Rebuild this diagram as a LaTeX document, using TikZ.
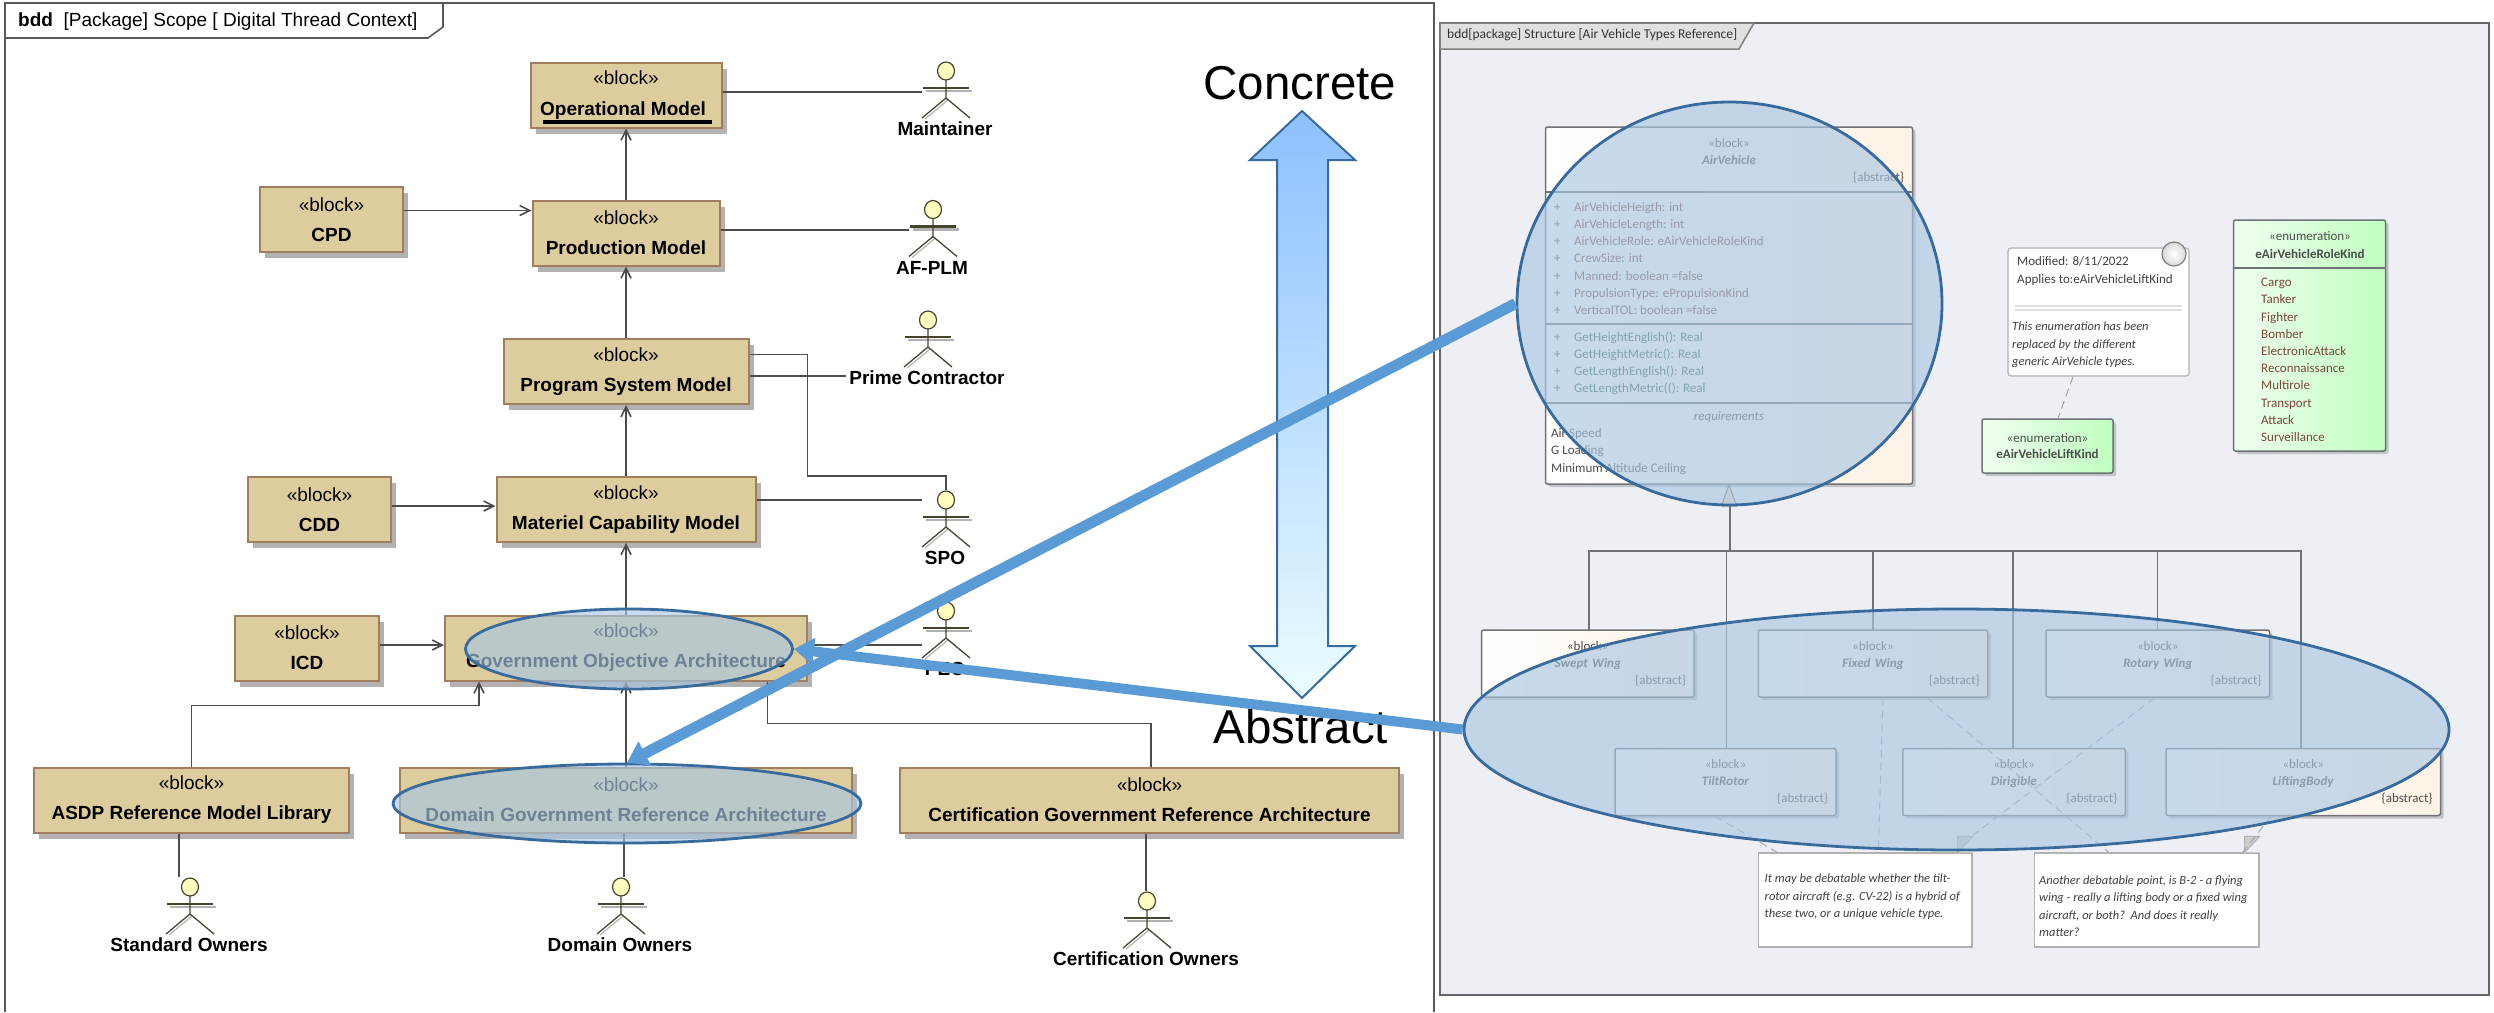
\documentclass[tikz,border=0pt]{standalone}
\usepackage{fontspec}
\setmainfont{Liberation Sans}
\newfontfamily\eafont{Carlito}
\usepackage{tikz}
\usetikzlibrary{shapes.geometric, arrows.meta, shadows}
\definecolor{tanfill}{RGB}{221,204,157}
\definecolor{tanline}{RGB}{160,125,95}
\definecolor{panelbg}{RGB}{237,239,244}
\definecolor{panelline}{RGB}{110,115,120}
\definecolor{attrcolor}{RGB}{122,70,60}
\definecolor{opcolor}{RGB}{45,100,80}
\definecolor{ringcolor}{RGB}{56,106,156}
\definecolor{ringfill}{RGB}{170,198,227}
\definecolor{pointer}{RGB}{91,155,213}
\tikzset{
    x=1pt, y=-1pt, % one unit is one pixel of the picture, y runs downwards
    >={Straight Barb[length=10pt,width=10pt]}, % open arrow heads
    tanblock/.style={draw=tanline, line width=2pt, fill=tanfill, align=center, inner sep=0pt,
        font=\fontsize{19}{30}\selectfont, minimum height=65pt,
        drop shadow={shadow xshift=5pt, shadow yshift=-6pt, opacity=1, fill=black!30}},
    link/.style={draw=black!70, line width=1.6pt},
    panelblock/.style={draw=panelline, line width=1.5pt, rounded corners=2pt, left color=white, right color=orange!10!white,
        align=center, text width=#1, inner xsep=8pt, inner ysep=0pt, minimum height=67pt,
        font=\eafont\fontsize{13}{17}\selectfont, text=black!70,
        drop shadow={shadow xshift=3pt, shadow yshift=-3pt, opacity=.5, fill=black!40}},
    enumblock/.style={panelblock=#1, left color=green!6!white, right color=green!25!white},
    paneltext/.style={font=\eafont\fontsize{13}{17.2}\selectfont, align=left, anchor=west, inner sep=0pt},
    notetext/.style={font=\eafont\itshape\fontsize{12.5}{17.5}\selectfont, text=black!75, align=left, anchor=west, inner sep=0pt},
    notebox/.style={draw=black!30, line width=1.2pt, fill=white, inner sep=0pt},
    notefold/.style={draw=black!30, line width=1pt, fill=black!20},
    tracelink/.style={draw=black!35, line width=1pt, dashed, dash pattern=on 8pt off 5pt},
    genlink/.style={draw=panelline, line width=1.3pt},
    focusring/.style={ellipse, draw=ringcolor, line width=2.8pt, fill=ringfill, fill opacity=.65, inner sep=0pt},
    pointerline/.style={draw=pointer, -{Triangle[length=20pt,width=26pt]}},
    actorman/.pic={
        \draw[black!30, line width=2.5pt] (-20,29) -- (26,29);
        \draw[black!30, line width=1.2pt] (-21,57) -- (2,38);
        \draw[black!65!olive, line width=2.5pt] (-23,26) -- (23,26);
        \draw[black!65!olive, line width=1.3pt] (0,18) -- (0,36) (-24,56) -- (0,36) -- (24,56);
        \node[ellipse, draw=black!65!olive, line width=1.2pt, fill=yellow!25, minimum width=17pt, minimum height=18pt, inner sep=0pt] (-head) at (0,9) {};
        \coordinate (-side) at (-24,36);
        \node[font=\bfseries\fontsize{19}{23}\selectfont] (-label) at (-1,67) {#1};
    },
}
\newcommand{\plusline}[1]{\makebox[20pt][l]{+}#1}

\begin{document}
\begin{tikzpicture}
    \useasboundingbox (0,0) rectangle (2494,1012);

    % left frame
    \draw[black!65, line width=2.2pt] (5,1012) -- (5,3) -- (1434,3) -- (1434,1012);
    \draw[black!65, line width=1.6pt] (5,38) -- (428,38) -- (443,27) -- (443,3);
    \node[font=\fontsize{19}{23}\selectfont, anchor=west, inner sep=0pt] (lefttitle) at (18,22) {\textbf{bdd}\ \ [Package] Scope [\ Digital Thread Context]};

    % blocks
    \node[tanblock, minimum width=191pt] (opmodel) at (626,95) {«block»\\\phantom{Operational Model}};
    \node[tanblock, minimum width=143pt] (cpd) at (331.5,219.5) {«block»\\\textbf{CPD}};
    \node[tanblock, minimum width=187pt] (production) at (626,233) {«block»\\\textbf{Production Model}};
    \node[tanblock, minimum width=245pt] (program) at (626,371.5) {«block»\\\textbf{Program System Model}};
    \node[tanblock, minimum width=143pt] (cdd) at (319.5,509.5) {«block»\\\textbf{CDD}};
    \node[tanblock, minimum width=259pt] (materiel) at (626,509.5) {«block»\\\textbf{Materiel Capability Model}};
    \node[tanblock, minimum width=144pt] (icd) at (307,648) {«block»\\\textbf{ICD}};
    \node[tanblock, minimum width=362pt] (goa) at (626,648) {«block»\\\textbf{Government Objective Architecture}};
    \node[tanblock, minimum width=315pt] (asdp) at (191.5,800) {«block»\\\textbf{ASDP Reference Model Library}};
    \node[tanblock, minimum width=452pt] (domain) at (626,800) {«block»\\\textbf{Domain Government Reference Architecture}};
    \node[tanblock, minimum width=499pt] (certification) at (1149.5,800) {«block»\\\textbf{Certification Government Reference Architecture}};
    \node[font=\bfseries\fontsize{19}{30}\selectfont, inner sep=0pt] (optext) at (623,111) {Operational Model};
    \draw[line width=4.5pt] (optext.south west) ++(3,2) -- ++(169,0);

    % actors
    \pic (maintainer) at (946,62) {actorman=Maintainer};
    \pic (afplm) at (933,200.5) {actorman=AF-PLM};
    \pic (prime) at (928,311) {actorman=Prime Contractor};
    \pic (spo) at (946,491) {actorman=SPO};
    \pic (peo) at (946,602) {actorman=PEO};
    \pic (standard) at (190,878) {actorman=Standard Owners};
    \pic (domainowners) at (621,878) {actorman=Domain Owners};
    \pic (certowners) at (1147,892) {actorman=Certification Owners};

    % connectors between the blocks
    \draw[link, ->] (production.north) -- (opmodel.south);
    \draw[link, ->] (program.north) -- (production.south);
    \draw[link, ->] (materiel.north) -- (program.south);
    \draw[link, ->] (goa.north) -- (materiel.south);
    \draw[link, ->] (domain.north) -- (goa.south);
    \draw[link, ->] ([yshift=9pt]cpd.east) coordinate (s) -- (production.west |- s);
    \draw[link, ->] ([yshift=3.5pt]cdd.east) coordinate (s) -- (materiel.west |- s);
    \draw[link, ->] ([yshift=3pt]icd.east) coordinate (s) -- (goa.west |- s);
    \draw[link, ->] (asdp.north) -- ++(0,-61) -| ([xshift=-147pt]goa.south);
    \draw[link, ->] ([xshift=1.5pt]certification.north) -- ++(0,-43) -| ([xshift=141.5pt]goa.south);

    % connectors to the actors
    \draw[link] ([yshift=3pt]opmodel.east) coordinate (s) -- (maintainer-side |- s);
    \draw[link] ([yshift=3pt]production.east) coordinate (s) -- (afplm-side |- s);
    \draw[link] ([yshift=-4.5pt]program.east) coordinate (s) -- (prime-label.west |- s);
    \draw[link] ([yshift=17pt]program.east) -- ++(58,0) |- (spo-head |- materiel.north) -- (spo-head.north);
    \draw[link] ([yshift=9.5pt]materiel.east) coordinate (s) -- (spo-side |- s);
    \draw[link] ([yshift=3pt]goa.east) coordinate (s) -- (peo-side |- s);
    \draw[link] ([xshift=-12.5pt]asdp.south) coordinate (s) -- (s |- standard-head.north);
    \draw[link] ([xshift=-2pt]domain.south) coordinate (s) -- (s |- domainowners-head.north);
    \draw[link] ([xshift=-3.5pt]certification.south) coordinate (s) -- (s |- certowners-head.north);

    % concrete to abstract arrow
    \shade[top color=blue!55!cyan!45!white, bottom color=blue!12!cyan!8!white, draw=ringcolor, line width=2pt]
        (1302,111) -- (1355,160) -- (1328,160) -- (1328,646) -- (1355,646) -- (1302,698)
        -- (1250,646) -- (1277,646) -- (1277,160) -- (1250,160) -- cycle;
    \node[font=\fontsize{47.5}{55}\selectfont, inner sep=0pt] (concrete) at (1300,83) {Concrete};
    \node[font=\fontsize{47.5}{55}\selectfont, inner sep=0pt] (abstract) at (1301,727) {Abstract};

    % right frame
    \filldraw[draw=black!60, line width=2pt, fill=panelbg] (1440,23) rectangle (2489,995);
    \filldraw[draw=black!50, line width=1.5pt, fill=black!12] (1440,23) -- (1754,23) -- (1739,49) -- (1440,49) -- cycle;
    \node[font=\eafont\fontsize{13.5}{16}\selectfont, text=black!80, anchor=west, inner sep=0pt] (righttitle) at (1447,35) {bdd[package] Structure [Air Vehicle Types Reference]};

    % generalization tree
    \draw[genlink] (1730,505) -- (1730,551);
    \draw[genlink] (1589,630) |- (2301,551) -- (2301,748);
    \draw[genlink] (1726.5,551) -- (1726.5,748);
    \draw[genlink] (1873,551) -- (1873,630);
    \draw[genlink] (2013,551) -- (2013,748);
    \draw[genlink] (2157.5,551) -- (2157.5,630);

    % AirVehicle block
    \node[panelblock=351, minimum height=357pt] (airvehicle) at (1729,305.5) {};
    \filldraw[draw=panelline, line width=1pt, fill=tanfill!70!white] (airvehicle.south) -- ++(7.5,21) -- ++(-15,0) -- cycle;
    \node[font=\eafont\fontsize{13}{17}\selectfont, text=black!70, align=center, text width=350pt, inner sep=0pt] (airvehiclehead) at (1729,161)
        {«block»\\\textbf{\textit{AirVehicle}}\\\hfill\{abstract\}};
    \draw[genlink] (airvehicle.west |- 0,192) -- (airvehicle.east |- 0,192);
    \draw[genlink] (airvehicle.west |- 0,324) -- (airvehicle.east |- 0,324);
    \draw[genlink] (airvehicle.west |- 0,403) -- (airvehicle.east |- 0,403);
    \node[paneltext, text=attrcolor] (attributes) at (1554,258.5) {\plusline{AirVehicleHeigth: int}\\\plusline{AirVehicleLength: int}\\\plusline{AirVehicleRole: eAirVehicleRoleKind}\\\plusline{CrewSize: int}\\\plusline{Manned: boolean =false}\\\plusline{PropulsionType: ePropulsionKind}\\\plusline{VerticalTOL: boolean =false}};
    \node[paneltext, text=opcolor] (operations) at (1554,363.5) {\plusline{GetHeightEnglish(): Real}\\\plusline{GetHeightMetric(): Real}\\\plusline{GetLengthEnglish(): Real}\\\plusline{GetLengthMetric((): Real}};
    \node[paneltext, anchor=center, text=black!70] (requirements) at (1729,417) {\textit{requirements}};
    \node[paneltext, text=black!70] (reqlist) at (1551,451.5) {Air Speed\\G Loading\\Minimum Altitude Ceiling};

    % note and enumerations
    \node[notebox, draw=black!30, rounded corners=3pt, minimum width=181pt, minimum height=128pt] (modnote) at (2098.5,312) {};
    \node[ellipse, draw=black!50, line width=1.2pt, inner color=white, outer color=black!15, minimum width=24pt, minimum height=24pt, inner sep=0pt] (modnotepin) at (2174,254) {};
    \node[paneltext, text=black!75] (modtext) at (2017,271) {Modified: 8/11/2022\\Applies to:eAirVehicleLiftKind};
    \draw[black!12, line width=1.5pt] ([xshift=8pt]modnote.west |- 0,306) -- ([xshift=-8pt]modnote.east |- 0,306) ([xshift=8pt]modnote.west |- 0,310) -- ([xshift=-8pt]modnote.east |- 0,310);
    \node[notetext] (modcomment) at (2012,345) {This enumeration has been\\replaced by the different\\generic AirVehicle types.};
    \node[enumblock=115, minimum height=54pt, font=\eafont\fontsize{13}{16}\selectfont] (liftkind) at (2047.5,446) {«enumeration»\\\textbf{eAirVehicleLiftKind}};
    \draw[tracelink] ([xshift=-25.5pt]modnote.south) -- ([xshift=10.5pt]liftkind.north);
    \node[enumblock=136, minimum height=231pt] (rolekind) at (2309.5,335.5) {};
    \node[font=\eafont\fontsize{13}{18}\selectfont, text=black!70, align=center, inner sep=0pt] (rolekindhead) at (2310,245) {«enumeration»\\\textbf{eAirVehicleRoleKind}};
    \draw[genlink] (rolekind.west |- 0,268) -- (rolekind.east |- 0,268);
    \node[paneltext, text=attrcolor] (rolelist) at (2261,360) {Cargo\\Tanker\\Fighter\\Bomber\\ElectronicAttack\\Reconnaissance\\Multirole\\Transport\\Attack\\Surveillance};

    % specialised blocks
    \node[panelblock=196.5] (swept) at (1587.75,663.5) {«block»\\\textbf{\textit{Swept Wing}}\\\hfill\{abstract\}};
    \node[panelblock=213.5] (fixed) at (1873,663.5) {«block»\\\textbf{\textit{Fixed Wing}}\\\hfill\{abstract\}};
    \node[panelblock=207.5] (rotary) at (2157.75,663.5) {«block»\\\textbf{\textit{Rotary Wing}}\\\hfill\{abstract\}};
    \node[panelblock=205] (tilt) at (1725.5,782) {«block»\\\textbf{\textit{TiltRotor}}\\\hfill\{abstract\}};
    \node[panelblock=206.5] (dirigible) at (2014,782) {«block»\\\textbf{\textit{Dirigible}}\\\hfill\{abstract\}};
    \node[panelblock=258.5] (lifting) at (2303.25,782) {«block»\\\textbf{\textit{LiftingBody}}\\\hfill\{abstract\}};

    % notes below the blocks
    \node[notebox, minimum width=213.5pt, minimum height=94pt] (note1) at (1865.25,900) {};
    \node[notebox, minimum width=224.5pt, minimum height=94pt] (note2) at (2146.75,900) {};
    \fill[panelbg] ([xshift=-15pt]note1.north east) -- (note1.north east) -- ([yshift=16pt]note1.north east) -- cycle;
    \filldraw[notefold] ([xshift=-15pt]note1.north east) -- ([yshift=16pt]note1.north east) -- ([xshift=-15pt,yshift=16pt]note1.north east) -- cycle;
    \fill[panelbg] ([xshift=-15pt]note2.north east) -- (note2.north east) -- ([yshift=16pt]note2.north east) -- cycle;
    \filldraw[notefold] ([xshift=-15pt]note2.north east) -- ([yshift=16pt]note2.north east) -- ([xshift=-15pt,yshift=16pt]note2.north east) -- cycle;
    \node[notetext] (note1text) at (1764.5,897) {It may be debatable whether the tilt-\\rotor aircraft (e.g. CV-22) is a hybrid of\\these two, or a unique vehicle type.};
    \node[notetext] (note2text) at (2039,906) {Another debatable point, is B-2 - a flying\\wing - really a lifting body or a fixed wing\\aircraft, or both?\ \ And does it really\\matter?};
    \draw[tracelink] ([xshift=-10.5pt]tilt.south) -- ([xshift=-88pt]note1.north);
    \draw[tracelink] ([xshift=10pt]fixed.south) -- ([xshift=13pt]note1.north);
    \draw[tracelink] ([xshift=-3pt]rotary.south) -- ([yshift=17pt]note1.north east);
    \draw[tracelink] ([xshift=54pt]fixed.south) -- ([xshift=-38pt]note2.north);
    \draw[tracelink] ([xshift=-32pt]lifting.south) -- ([xshift=-17pt]note2.north east);

    % rings and pointers
    \node[focusring, minimum width=425pt, minimum height=403pt] (airvehiclering) at (1729.5,303.5) {};
    \node[focusring, minimum width=985pt, minimum height=241pt] (typesring) at (1956.5,729.5) {};
    \node[focusring, minimum width=327pt, minimum height=80pt] (goaring) at (629,649) {};
    \node[focusring, minimum width=468pt, minimum height=79pt] (domainring) at (627,803.5) {};
    \draw[pointerline, line width=11pt] (airvehiclering.west) -- (domainring.north);
    \draw[pointerline, line width=10pt] (typesring.west) -- (goaring.east);
\end{tikzpicture}
\end{document}
